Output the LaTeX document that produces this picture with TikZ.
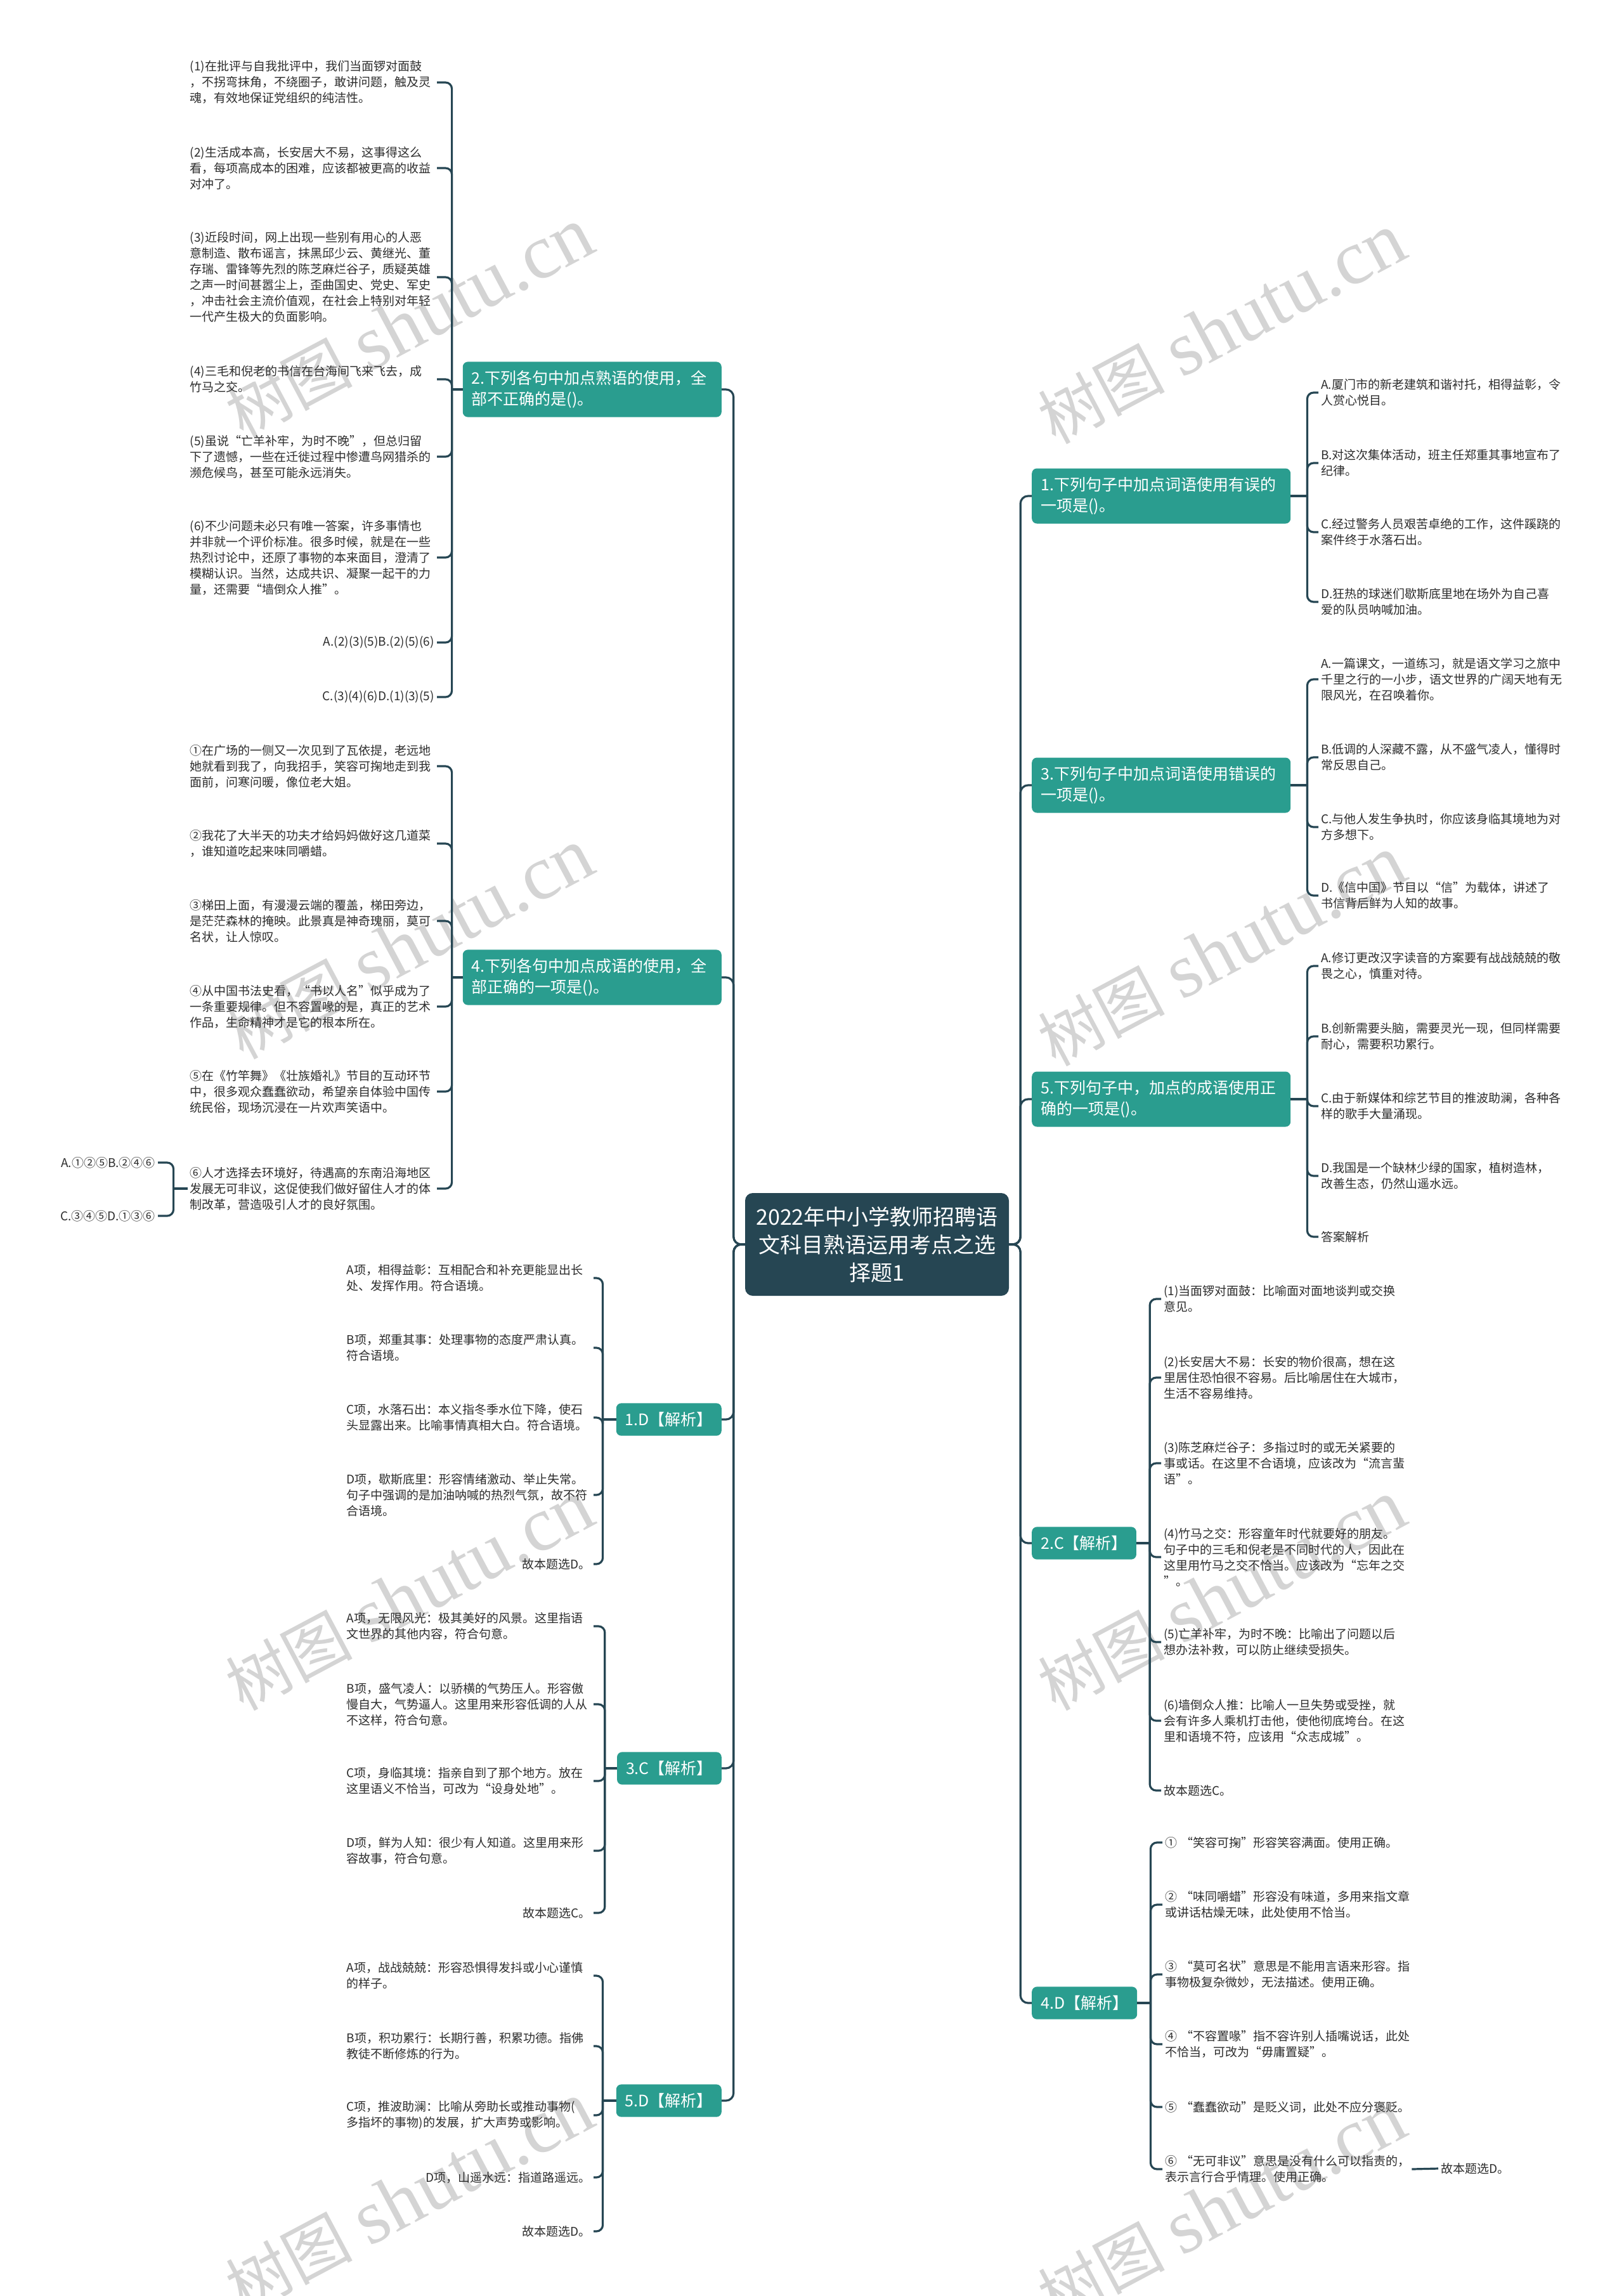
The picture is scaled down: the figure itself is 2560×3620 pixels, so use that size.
\documentclass[tikz,border=0pt]{standalone}
\usepackage{fontspec}
\setmainfont{Noto Sans CJK SC}
\newfontfamily\wmserif{Liberation Serif}
\newfontfamily\wmcjk{Noto Sans CJK SC}
\usetikzlibrary{calc}
\definecolor{tealbox}{RGB}{42,157,143}
\definecolor{darkbox}{RGB}{38,70,83}
\definecolor{wmgray}{RGB}{212,212,212}
\definecolor{txtgray}{RGB}{45,45,45}
\newcommand\leaffont{\fontsize{19}{25}\selectfont}
\newcommand\branchfont{\fontsize{25}{33}\selectfont}
\newcommand\centerfont{\fontsize{34}{44}\selectfont}
\begin{document}
\begin{tikzpicture}[x=1pt,y=-1pt,
  conn/.style={draw=darkbox, line width=3.2pt},
  centerbox/.style={fill=darkbox, text=white, rounded corners=12pt, font=\centerfont, align=center, minimum width=416pt, minimum height=162pt, inner xsep=16pt},
  branchtwo/.style={fill=tealbox, text=white, rounded corners=8pt, font=\branchfont, align=left, text width=380pt, inner xsep=14pt, inner ysep=14pt},
  branchone/.style={fill=tealbox, text=white, rounded corners=8pt, font=\branchfont, inner xsep=14pt, inner ysep=14pt},
  leafL/.style={font=\leaffont, text=txtgray, align=left, text width=385pt, inner xsep=4pt, inner ysep=3pt, anchor=east},
  leafLs/.style={font=\leaffont, text=txtgray, align=right, inner xsep=4pt, inner ysep=3pt, anchor=east},
  leafR/.style={font=\leaffont, text=txtgray, align=left, text width=385pt, inner xsep=4pt, inner ysep=3pt, anchor=west},
  wmk/.style={text=wmgray, rotate=28, inner sep=0pt}
]
\fill[white] (0,0) rectangle (2560,3620);
\useasboundingbox (0,0) rectangle (2560,3620);

% watermarks
\foreach \wx/\wy [count=\i] in {646/510,1927/519,646/1489,1927/1500,646/2516,1927/2516,646/3465,1927/3480}
  \node[wmk] (wm\i) at (\wx,\wy) {\fontsize{100}{100}\selectfont\wmcjk 树图\hspace{25pt}\fontsize{122}{122}\selectfont\wmserif shutu.cn};

% center
\node[centerbox] (C) at (1383,1962) {2022年中小学教师招聘语\\文科目熟语运用考点之选\\择题1};

% right branches
\node[branchtwo, anchor=west] (R1) at (1627,782) {1.下列句子中加点词语使用有误的\\一项是()。};
\node[branchtwo, anchor=west] (R3) at (1627,1238) {3.下列句子中加点词语使用错误的\\一项是()。};
\node[branchtwo, anchor=west] (R5) at (1627,1733) {5.下列句子中，加点的成语使用正\\确的一项是()。};
\node[branchone, anchor=west] (R2) at (1627,2433) {2.C【解析】};
\node[branchone, anchor=west] (R4) at (1627,3158) {4.D【解析】};

% left branches
\node[branchtwo, anchor=east] (L2) at (1138,614) {2.下列各句中加点熟语的使用，全\\部不正确的是()。};
\node[branchtwo, anchor=east] (L4) at (1138,1541) {4.下列各句中加点成语的使用，全\\部正确的一项是()。};
\node[branchone, anchor=east] (L1) at (1138,2238) {1.D【解析】};
\node[branchone, anchor=east] (L3) at (1138,2788) {3.C【解析】};
\node[branchone, anchor=east] (L5) at (1138,3312) {5.D【解析】};

% center connectors
\foreach \b in {L2,L4,L1,L3,L5}
  \draw[conn, rounded corners=12pt] (C.west) -- ++(-18,0) |- (\b.east);
\foreach \b in {R1,R3,R5,R2,R4}
  \draw[conn, rounded corners=12pt] (C.east) -- ++(18,0) |- (\b.west);

% ---------- L2 leaves ----------
\node[leafL] (L2a) at (689,130) {(1)在批评与自我批评中，我们当面锣对面鼓\\，不拐弯抹角，不绕圈子，敢讲问题，触及灵\\魂，有效地保证党组织的纯洁性。};
\node[leafL] (L2b) at (689,265) {(2)生活成本高，长安居大不易，这事得这么\\看，每项高成本的困难，应该都被更高的收益\\对冲了。};
\node[leafL] (L2c) at (689,437) {(3)近段时间，网上出现一些别有用心的人恶\\意制造、散布谣言，抹黑邱少云、黄继光、董\\存瑞、雷锋等先烈的陈芝麻烂谷子，质疑英雄\\之声一时间甚嚣尘上，歪曲国史、党史、军史\\，冲击社会主流价值观，在社会上特别对年轻\\一代产生极大的负面影响。};
\node[leafL] (L2d) at (689,598) {(4)三毛和倪老的书信在台海间飞来飞去，成\\竹马之交。};
\node[leafL] (L2e) at (689,720) {(5)虽说“亡羊补牢，为时不晚”，但总归留\\下了遗憾，一些在迁徙过程中惨遭鸟网猎杀的\\濒危候鸟，甚至可能永远消失。};
\node[leafL] (L2f) at (689,879) {(6)不少问题未必只有唯一答案，许多事情也\\并非就一个评价标准。很多时候，就是在一些\\热烈讨论中，还原了事物的本来面目，澄清了\\模糊认识。当然，达成共识、凝聚一起干的力\\量，还需要“墙倒众人推”。};
\node[leafLs] (L2g) at (689,1013) {A.(2)(3)(5)B.(2)(5)(6)};
\node[leafLs] (L2h) at (689,1099) {C.(3)(4)(6)D.(1)(3)(5)};
\coordinate (L2j) at ($(L2.west)+(-17,0)$);
\draw[conn] (L2.west) -- (L2j);
\foreach \l in {L2a,L2b,L2c,L2d,L2e,L2f,L2g,L2h}
  \draw[conn, rounded corners=10pt] (L2j) |- (\l.east);

% ---------- L4 leaves ----------
\node[leafL] (L4a) at (689,1208) {①在广场的一侧又一次见到了瓦依提，老远地\\她就看到我了，向我招手，笑容可掬地走到我\\面前，问寒问暖，像位老大姐。};
\node[leafL] (L4b) at (689,1330) {②我花了大半天的功夫才给妈妈做好这几道菜\\，谁知道吃起来味同嚼蜡。};
\node[leafL] (L4c) at (689,1452) {③梯田上面，有漫漫云端的覆盖，梯田旁边，\\是茫茫森林的掩映。此景真是神奇瑰丽，莫可\\名状，让人惊叹。};
\node[leafL] (L4d) at (689,1587) {④从中国书法史看，“书以人名”似乎成为了\\一条重要规律。但不容置喙的是，真正的艺术\\作品，生命精神才是它的根本所在。};
\node[leafL] (L4e) at (689,1721) {⑤在《竹竿舞》《壮族婚礼》节目的互动环节\\中，很多观众蠢蠢欲动，希望亲自体验中国传\\统民俗，现场沉浸在一片欢声笑语中。};
\node[leafL] (L4f) at (689,1874) {⑥人才选择去环境好，待遇高的东南沿海地区\\发展无可非议，这促使我们做好留住人才的体\\制改革，营造吸引人才的良好氛围。};
\coordinate (L4j) at ($(L4.west)+(-17,0)$);
\draw[conn] (L4.west) -- (L4j);
\foreach \l in {L4a,L4b,L4c,L4d,L4e,L4f}
  \draw[conn, rounded corners=10pt] (L4j) |- (\l.east);
\node[leafLs] (L4g) at (249,1833) {A.①②⑤B.②④⑥};
\node[leafLs] (L4h) at (249,1917) {C.③④⑤D.①③⑥};
\coordinate (L4fj) at ($(L4f.west)+(-22,0)$);
\draw[conn] (L4f.west) -- (L4fj);
\foreach \l in {L4g,L4h}
  \draw[conn, rounded corners=10pt] (L4fj) |- (\l.east);

% ---------- L1 leaves ----------
\node[leafL] (L1a) at (936,2015) {A项，相得益彰：互相配合和补充更能显出长\\处、发挥作用。符合语境。};
\node[leafL] (L1b) at (936,2125) {B项，郑重其事：处理事物的态度严肃认真。\\符合语境。};
\node[leafL] (L1c) at (936,2235) {C项，水落石出：本义指冬季水位下降，使石\\头显露出来。比喻事情真相大白。符合语境。};
\node[leafL] (L1d) at (936,2357) {D项，歇斯底里：形容情绪激动、举止失常。\\句子中强调的是加油呐喊的热烈气氛，故不符\\合语境。};
\node[leafLs] (L1e) at (936,2466) {故本题选D。};
\coordinate (L1j) at ($(L1.west)+(-21,0)$);
\draw[conn] (L1.west) -- (L1j);
\foreach \l in {L1a,L1b,L1c,L1d,L1e}
  \draw[conn, rounded corners=10pt] (L1j) |- (\l.east);

% ---------- L3 leaves ----------
\node[leafL] (L3a) at (936,2564) {A项，无限风光：极其美好的风景。这里指语\\文世界的其他内容，符合句意。};
\node[leafL] (L3b) at (936,2687) {B项，盛气凌人：以骄横的气势压人。形容傲\\慢自大，气势逼人。这里用来形容低调的人从\\不这样，符合句意。};
\node[leafL] (L3c) at (936,2808) {C项，身临其境：指亲自到了那个地方。放在\\这里语义不恰当，可改为“设身处地”。};
\node[leafL] (L3d) at (936,2918) {D项，鲜为人知：很少有人知道。这里用来形\\容故事，符合句意。};
\node[leafLs] (L3e) at (936,3016) {故本题选C。};
\coordinate (L3j) at ($(L3.west)+(-19,0)$);
\draw[conn] (L3.west) -- (L3j);
\foreach \l in {L3a,L3b,L3c,L3d,L3e}
  \draw[conn, rounded corners=10pt] (L3j) |- (\l.east);

% ---------- L5 leaves ----------
\node[leafL] (L5a) at (936,3115) {A项，战战兢兢：形容恐惧得发抖或小心谨慎\\的样子。};
\node[leafL] (L5b) at (936,3226) {B项，积功累行：长期行善，积累功德。指佛\\教徒不断修炼的行为。};
\node[leafL] (L5c) at (936,3335) {C项，推波助澜：比喻从旁助长或推动事物(\\多指坏的事物)的发展，扩大声势或影响。};
\node[leafLs] (L5d) at (936,3433) {D项，山遥水远：指道路遥远。};
\node[leafLs] (L5e) at (936,3518) {故本题选D。};
\coordinate (L5j) at ($(L5.west)+(-21,0)$);
\draw[conn] (L5.west) -- (L5j);
\foreach \l in {L5a,L5b,L5c,L5d,L5e}
  \draw[conn, rounded corners=10pt] (L5j) |- (\l.east);

% ---------- R1 leaves ----------
\node[leafR] (R1a) at (2079,619) {A.厦门市的新老建筑和谐衬托，相得益彰，令\\人赏心悦目。};
\node[leafR] (R1b) at (2079,730) {B.对这次集体活动，班主任郑重其事地宣布了\\纪律。};
\node[leafR] (R1c) at (2079,839) {C.经过警务人员艰苦卓绝的工作，这件蹊跷的\\案件终于水落石出。};
\node[leafR] (R1d) at (2079,949) {D.狂热的球迷们歇斯底里地在场外为自己喜\\爱的队员呐喊加油。};
\coordinate (R1j) at ($(R1.east)+(26,0)$);
\draw[conn] (R1.east) -- (R1j);
\foreach \l in {R1a,R1b,R1c,R1d}
  \draw[conn, rounded corners=10pt] (R1j) |- (\l.west);

% ---------- R3 leaves ----------
\node[leafR] (R3a) at (2079,1071) {A.一篇课文，一道练习，就是语文学习之旅中\\千里之行的一小步，语文世界的广阔天地有无\\限风光，在召唤着你。};
\node[leafR] (R3b) at (2079,1194) {B.低调的人深藏不露，从不盛气凌人，懂得时\\常反思自己。};
\node[leafR] (R3c) at (2079,1304) {C.与他人发生争执时，你应该身临其境地为对\\方多想下。};
\node[leafR] (R3d) at (2079,1412) {D.《信中国》节目以“信”为载体，讲述了\\书信背后鲜为人知的故事。};
\coordinate (R3j) at ($(R3.east)+(26,0)$);
\draw[conn] (R3.east) -- (R3j);
\foreach \l in {R3a,R3b,R3c,R3d}
  \draw[conn, rounded corners=10pt] (R3j) |- (\l.west);

% ---------- R5 leaves ----------
\node[leafR] (R5a) at (2079,1523) {A.修订更改汉字读音的方案要有战战兢兢的敬\\畏之心，慎重对待。};
\node[leafR] (R5b) at (2079,1634) {B.创新需要头脑，需要灵光一现，但同样需要\\耐心，需要积功累行。};
\node[leafR] (R5c) at (2079,1744) {C.由于新媒体和综艺节目的推波助澜，各种各\\样的歌手大量涌现。};
\node[leafR] (R5d) at (2079,1854) {D.我国是一个缺林少绿的国家，植树造林，\\改善生态，仍然山遥水远。};
\node[leafR] (R5e) at (2079,1950) {答案解析};
\coordinate (R5j) at ($(R5.east)+(26,0)$);
\draw[conn] (R5.east) -- (R5j);
\foreach \l in {R5a,R5b,R5c,R5d,R5e}
  \draw[conn, rounded corners=10pt] (R5j) |- (\l.west);

% ---------- R2 leaves ----------
\node[leafR] (R2a) at (1831,2048) {(1)当面锣对面鼓：比喻面对面地谈判或交换\\意见。};
\node[leafR] (R2b) at (1831,2172) {(2)长安居大不易：长安的物价很高，想在这\\里居住恐怕很不容易。后比喻居住在大城市，\\生活不容易维持。};
\node[leafR] (R2c) at (1831,2307) {(3)陈芝麻烂谷子：多指过时的或无关紧要的\\事或话。在这里不合语境，应该改为“流言蜚\\语”。};
\node[leafR] (R2d) at (1831,2455) {(4)竹马之交：形容童年时代就要好的朋友。\\句子中的三毛和倪老是不同时代的人，因此在\\这里用竹马之交不恰当。应该改为“忘年之交\\”。};
\node[leafR] (R2e) at (1831,2589) {(5)亡羊补牢，为时不晚：比喻出了问题以后\\想办法补救，可以防止继续受损失。};
\node[leafR] (R2f) at (1831,2713) {(6)墙倒众人推：比喻人一旦失势或受挫，就\\会有许多人乘机打击他，使他彻底垮台。在这\\里和语境不符，应该用“众志成城”。};
\node[leafR] (R2g) at (1831,2823) {故本题选C。};
\coordinate (R2j) at ($(R2.east)+(21,0)$);
\draw[conn] (R2.east) -- (R2j);
\foreach \l in {R2a,R2b,R2c,R2d,R2e,R2f,R2g}
  \draw[conn, rounded corners=10pt] (R2j) |- (\l.west);

% ---------- R4 leaves ----------
\node[leafR] (R4a) at (1833,2905) {①~“笑容可掬”形容笑容满面。使用正确。};
\node[leafR] (R4b) at (1833,3003) {②~“味同嚼蜡”形容没有味道，多用来指文章\\或讲话枯燥无味，此处使用不恰当。};
\node[leafR] (R4c) at (1833,3113) {③~“莫可名状”意思是不能用言语来形容。指\\事物极复杂微妙，无法描述。使用正确。};
\node[leafR] (R4d) at (1833,3223) {④~“不容置喙”指不容许别人插嘴说话，此处\\不恰当，可改为“毋庸置疑”。};
\node[leafR] (R4e) at (1833,3322) {⑤~“蠢蠢欲动”是贬义词，此处不应分褒贬。};
\node[leafR] (R4f) at (1833,3420) {⑥~“无可非议”意思是没有什么可以指责的，\\表示言行合乎情理。使用正确。};
\coordinate (R4j) at ($(R4.east)+(21,0)$);
\draw[conn] (R4.east) -- (R4j);
\foreach \l in {R4a,R4b,R4c,R4d,R4e,R4f}
  \draw[conn, rounded corners=10pt] (R4j) |- (\l.west);
\node[font=\leaffont, text=txtgray, anchor=west, inner xsep=4pt] (R4g) at (2268,3419) {故本题选D。};
\draw[conn] (R4f.east) -- (R4g.west);
\end{tikzpicture}
\end{document}
